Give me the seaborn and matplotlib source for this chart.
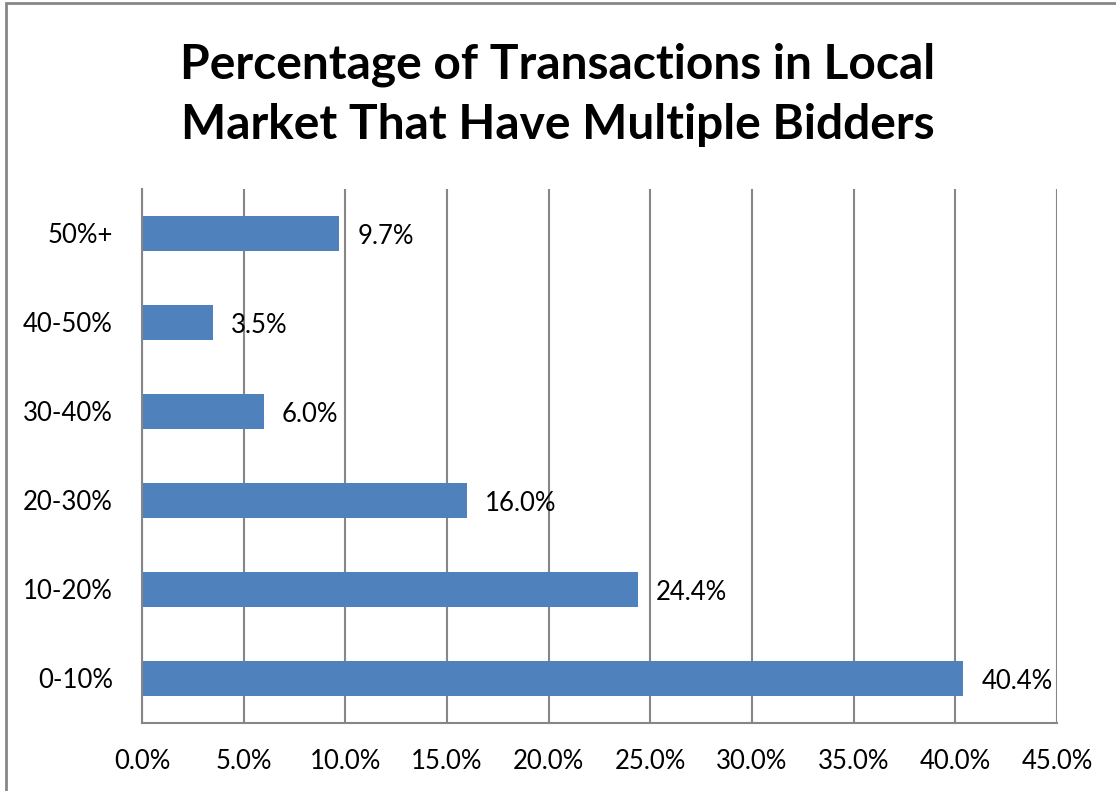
import matplotlib
matplotlib.use("Agg")
import matplotlib.pyplot as plt
import seaborn as sns
import pandas as pd
from matplotlib.patches import Rectangle

categories = ["50%+", "40-50%", "30-40%", "20-30%", "10-20%", "0-10%"]
values = [9.7, 3.5, 6.0, 16.0, 24.4, 40.4]
xticks = [0, 5, 10, 15, 20, 25, 30, 35, 40, 45]
title = "Percentage of Transactions in Local\nMarket That Have Multiple Bidders"

sns.set_theme(style="white")
plt.rcParams["font.family"] = ["Lato", "DejaVu Sans"]

df = pd.DataFrame({"cat": categories, "val": values})

fig = plt.figure(figsize=(11.16, 7.91), dpi=100)
ax = fig.add_axes([0.1272, 0.0860, 0.8199, 0.6751])

sns.barplot(data=df, x="val", y="cat", order=categories, color="#4F81BD",
            width=0.4, saturation=1, ax=ax, edgecolor="none")

ax.set_xlim(0, 45)
ax.set_ylim(5.5, -0.5)
ax.set_xticks(xticks)
ax.set_xticklabels([f"{t:.1f}%" for t in xticks], fontsize=18.5, color="black")
ax.tick_params(axis="y", labelsize=18.5, colors="black", length=0, pad=21)
ax.tick_params(axis="x", length=0, pad=19)
for lbl in ax.get_yticklabels():
    lbl.set_color("black")
ax.set_xlabel("")
ax.set_ylabel("")

ax.grid(axis="x", color="#868686", linewidth=1.5)
ax.set_axisbelow(True)
for s in ["top", "right"]:
    ax.spines[s].set_visible(False)
for s in ["left", "bottom"]:
    ax.spines[s].set_color("#868686")
    ax.spines[s].set_linewidth(1.5)

for i, v in enumerate(values):
    ax.annotate(f"{v:.1f}%", xy=(v, i), xytext=(13, -2), textcoords="offset points",
                ha="left", va="center", fontsize=18.5, color="black")

fig.text(0.5, 0.8805, title, ha="center", va="center", fontsize=34.5,
         fontweight="bold", linespacing=1.45, color="black")

fig.patches.append(Rectangle((6 / 1116, -0.05), 1.2, 1 - 3 / 791 + 0.05,
                             transform=fig.transFigure, fill=False,
                             edgecolor="#878787", linewidth=2, figure=fig))

fig.savefig("out.png", dpi=100)
